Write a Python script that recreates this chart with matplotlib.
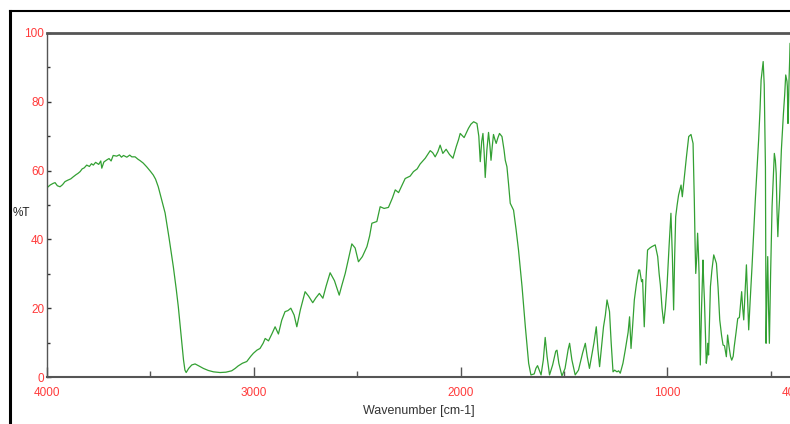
import matplotlib
matplotlib.use("Agg")
import matplotlib.pyplot as plt
from matplotlib.lines import Line2D

# IR spectrum, values
wavenumber = [4000, 3985, 3970, 3961, 3950, 3937, 3925, 3913, 3900, 3885, 3873, 3860, 3850, 3840,
              3830, 3820, 3808, 3795, 3785, 3776, 3765, 3750, 3740, 3735, 3725, 3711, 3700, 3690,
              3680, 3663, 3650, 3640, 3630, 3614, 3600, 3590, 3574, 3560, 3550, 3535, 3518, 3500,
              3486, 3475, 3462, 3450, 3437, 3429, 3410, 3389, 3375, 3365, 3350, 3340, 3333, 3327,
              3315, 3300, 3284, 3265, 3244, 3220, 3195, 3163, 3135, 3107, 3090, 3076, 3055, 3034,
              3015, 3002, 2985, 2970, 2955, 2945, 2929, 2912, 2897, 2881, 2865, 2849, 2835, 2821,
              2805, 2792, 2775, 2752, 2735, 2715, 2700, 2683, 2666, 2650, 2631, 2610, 2587, 2575,
              2558, 2540, 2526, 2510, 2494, 2475, 2453, 2440, 2429, 2415, 2405, 2389, 2370, 2349,
              2330, 2316, 2300, 2285, 2268, 2244, 2228, 2210, 2196, 2171, 2147, 2135, 2123, 2110,
              2099, 2086, 2070, 2054, 2037, 2021, 2010, 2002, 1983, 1962, 1950, 1937, 1921, 1912,
              1905, 1898, 1892, 1886, 1881, 1873, 1865, 1858, 1853, 1847, 1841, 1834, 1828, 1820,
              1812, 1800, 1790, 1784, 1776, 1768, 1760, 1744, 1732, 1720, 1703, 1687, 1671, 1660,
              1644, 1636, 1628, 1620, 1611, 1600, 1591, 1582, 1570, 1555, 1540, 1534, 1525, 1510,
              1495, 1480, 1473, 1462, 1446, 1430, 1410, 1397, 1388, 1377, 1365, 1355, 1344, 1336,
              1328, 1318, 1309, 1300, 1292, 1280, 1272, 1263, 1255, 1244, 1236, 1228, 1215, 1204,
              1190, 1183, 1176, 1168, 1160, 1150, 1139, 1134, 1125, 1120, 1112, 1104, 1096, 1085,
              1075, 1059, 1047, 1040, 1034, 1026, 1018, 1010, 1002, 992, 983, 976, 970, 965,
              960, 953, 946, 934, 928, 918, 908, 897, 886, 876, 870, 866, 863, 858,
              854, 850, 847, 844, 841, 835, 828, 825, 821, 816, 812, 808, 805, 801,
              797, 792, 785, 776, 763, 755, 747, 738, 731, 724, 715, 709, 702, 695,
              689, 682, 677, 668, 660, 652, 645, 641, 636, 631, 625, 618, 612, 607,
              600, 591, 583, 575, 567, 559, 552, 547, 540, 537, 532, 526, 524, 523,
              519, 515, 511, 507, 501, 494, 488, 483, 478, 474, 470, 466, 462, 458,
              449, 439, 433, 428, 422, 420, 417, 414, 412, 409, 407, 400]
transmittance = [55.0, 55.8, 56.3, 56.5, 55.6, 55.3, 55.9, 56.8, 57.2, 57.6, 58.2, 58.8, 59.2, 59.7,
                 60.5, 60.8, 61.6, 61.2, 62.0, 61.6, 62.4, 61.8, 62.8, 60.7, 62.5, 63.1, 63.5, 62.8,
                 64.4, 64.2, 64.6, 63.9, 64.4, 63.9, 64.5, 64.0, 64.0, 63.3, 62.9, 62.2, 61.1, 59.8,
                 58.7, 57.5, 55.3, 52.5, 49.5, 47.7, 40.5, 32.0, 25.5, 20.4, 11.0, 5.0, 2.0, 1.3,
                 2.5, 3.5, 3.8, 3.2, 2.5, 1.9, 1.5, 1.3, 1.4, 1.8, 2.5, 3.2, 4.0, 4.5,
                 6.0, 6.9, 7.8, 8.3, 9.8, 11.2, 10.5, 12.6, 14.6, 12.5, 16.5, 19.0, 19.3, 20.0,
                 18.0, 14.6, 19.5, 24.8, 23.5, 21.6, 23.0, 24.3, 22.9, 26.5, 30.3, 28.0, 23.8, 26.5,
                 30.1, 35.0, 38.7, 37.5, 33.5, 35.0, 37.9, 41.0, 44.7, 45.0, 45.2, 49.5, 49.0, 49.3,
                 52.0, 54.4, 53.6, 55.5, 57.7, 58.4, 59.7, 60.5, 61.9, 63.6, 65.8, 65.2, 64.0, 65.5,
                 67.4, 65.0, 66.2, 64.7, 63.6, 67.0, 69.0, 70.8, 69.6, 72.3, 73.5, 74.2, 73.7, 70.0,
                 62.6, 68.5, 70.8, 65.0, 58.0, 66.0, 71.1, 67.0, 63.0, 67.0, 70.5, 69.0, 67.9, 69.5,
                 70.8, 69.9, 66.0, 63.0, 61.1, 56.0, 50.5, 48.5, 43.0, 36.9, 26.3, 14.6, 4.0, 0.6,
                 0.9, 2.5, 3.3, 2.0, 0.6, 5.0, 11.5, 6.0, 0.6, 3.5, 7.5, 7.8, 4.0, 0.3,
                 2.5, 8.0, 9.8, 5.0, 0.6, 2.0, 7.0, 9.8, 6.0, 2.5, 6.5, 10.0, 14.6, 8.0,
                 3.0, 9.0, 14.6, 18.0, 22.4, 19.0, 10.0, 1.5, 2.0, 1.5, 1.8, 1.1, 4.0, 7.8,
                 13.0, 17.5, 8.3, 15.0, 22.4, 27.0, 31.1, 31.1, 27.7, 28.3, 14.6, 28.0, 36.9, 37.5,
                 37.9, 38.4, 35.0, 30.0, 26.7, 20.0, 15.6, 20.0, 26.3, 38.0, 47.6, 35.0, 19.5, 35.0,
                 46.6, 50.0, 52.9, 55.8, 52.4, 58.2, 64.0, 69.9, 70.5, 67.9, 51.5, 38.0, 30.1, 35.0,
                 41.8, 36.0, 30.1, 15.0, 3.5, 20.0, 34.0, 28.0, 22.4, 12.0, 4.0, 6.0, 9.8, 6.4,
                 15.0, 26.3, 31.0, 35.5, 33.0, 26.0, 16.6, 12.0, 9.3, 9.1, 5.9, 12.2, 8.8, 6.0,
                 4.9, 6.0, 8.8, 13.0, 17.0, 17.3, 22.0, 24.8, 20.0, 16.6, 24.0, 32.6, 22.0, 13.7,
                 22.0, 32.0, 42.0, 51.5, 60.0, 68.9, 78.0, 86.3, 90.0, 91.7, 85.0, 61.0, 30.0, 9.8,
                 25.0, 35.0, 20.0, 9.8, 30.0, 49.5, 58.0, 65.0, 63.0, 59.2, 48.0, 40.8, 47.0, 51.5,
                 66.0, 76.6, 82.0, 87.8, 86.0, 84.4, 73.7, 80.0, 86.3, 92.0, 97.0, 97.0]

x_major = [4000, 3000, 2000, 1000, 400]
x_minor = [3500, 2500, 1500, 500]
y_major = [0, 20, 40, 60, 80, 100]
y_minor = [10, 30, 50, 70, 90]

W, H = 790, 424
fig = plt.figure(figsize=(W / 100, H / 100), dpi=100)
fig.patch.set_facecolor("white")

# axes box in pixels: left 47, right 791.5, top 33, bottom 377
ax = fig.add_axes([47 / W, (H - 377) / H, (791.5 - 47) / W, (377 - 33) / H])
ax.plot(wavenumber, transmittance, color="#33a033", lw=0.9)

ax.set_xlim(4000, 400)
ax.set_ylim(0, 100)
ax.set_xticks(x_major)
ax.set_xticks(x_minor, minor=True)
ax.set_yticks(y_major)
ax.set_yticks(y_minor, minor=True)

narrow = ["Liberation Sans Narrow", "Liberation Sans", "DejaVu Sans"]
lab_font = {"family": narrow, "size": 8.5}
ax.set_xticklabels([str(v) for v in x_major], color="#ff3b3b", fontdict=lab_font)
ax.set_yticklabels([str(v) for v in y_major], color="#ff3b3b", fontdict=lab_font)

ax.tick_params(axis="x", which="major", direction="in", length=7, width=1, color="#555555", pad=7)
ax.tick_params(axis="x", which="minor", direction="in", length=4, width=1, color="#555555")
ax.tick_params(axis="y", which="major", direction="in", length=3, width=1, color="#333333", pad=2)
ax.tick_params(axis="y", which="minor", direction="in", length=2, width=1, color="#333333")

ax.spines["right"].set_visible(False)
ax.spines["top"].set_color("#555555")
ax.spines["top"].set_linewidth(2)
ax.spines["left"].set_color("#555555")
ax.spines["left"].set_linewidth(1)
ax.spines["bottom"].set_color("#555555")
ax.spines["bottom"].set_linewidth(1.5)

fig.text(21 / W, 1 - 213 / H, "%T", ha="center", va="center", fontsize=8.5,
         family=narrow, color="#222222")
fig.text(419 / W, 1 - 411 / H, "Wavenumber [cm-1]", ha="center", va="center", fontsize=9,
         family=narrow, color="#333333")

# outer black frame (left and top edges)
fig.add_artist(Line2D([9.5 / W, 9.5 / W], [0, 1 - 11 / H], color="black", lw=2.2,
                      transform=fig.transFigure))
fig.add_artist(Line2D([9.5 / W, 1], [1 - 11 / H, 1 - 11 / H], color="black", lw=1.5,
                      transform=fig.transFigure))

fig.savefig("out.png", dpi=100)
